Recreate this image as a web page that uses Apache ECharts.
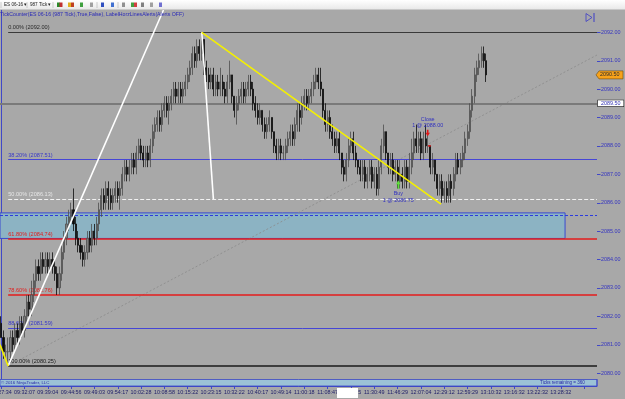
<!DOCTYPE html>
<html><head><meta charset="utf-8">
<script src="https://cdn.jsdelivr.net/npm/echarts@6/dist/echarts.min.js"></script>
<style>html,body{margin:0;padding:0;background:#a8a8a8;overflow:hidden}#c{width:625px;height:399px}</style>
</head><body><div id="c"></div>
<script>
// ---- data ----
const timeLabels = ['09:27:34','09:32:07','09:39:04','09:44:56','09:49:03','09:54:17','10:02:28','10:08:58','10:15:22','10:23:15','10:32:22','10:40:17','10:49:14','11:00:18','11:08:47','11:19:55','11:30:49','11:46:29','12:07:04','12:29:12','12:59:29','13:10:32','13:16:32','13:22:32','13:28:32'];
const slotCount = 256;
// [open, close, low, high]
const bars = [
[2081.75,2081.25,2081.25,2082.00],[2081.25,2080.75,2080.50,2081.50],[2080.75,2080.75,2080.50,2081.00],[2080.75,2080.75,2080.25,2081.25],[2080.75,2081.25,2080.50,2081.50],
[2081.25,2081.00,2080.75,2081.50],[2081.00,2081.50,2080.75,2081.75],[2081.50,2081.25,2081.00,2081.75],[2081.25,2081.75,2081.00,2082.00],[2081.75,2081.50,2081.25,2082.00],
[2081.50,2082.00,2081.25,2082.25],[2082.00,2082.50,2081.75,2082.75],[2082.50,2082.25,2082.00,2082.75],[2082.25,2082.75,2082.00,2083.25],[2082.75,2083.25,2082.50,2083.50],
[2083.25,2083.75,2083.00,2084.00],[2083.75,2083.50,2083.25,2084.00],[2083.50,2084.00,2083.25,2084.25],[2084.00,2083.75,2083.50,2084.25],[2083.75,2084.00,2083.50,2084.25],
[2084.00,2083.75,2083.50,2084.25],[2083.75,2084.00,2083.50,2084.25],[2084.00,2083.75,2083.50,2084.25],[2083.75,2083.50,2083.25,2084.00],[2083.50,2083.00,2082.75,2083.75],
[2083.00,2083.50,2082.75,2083.75],[2083.50,2084.25,2083.25,2084.50],[2084.25,2084.75,2084.00,2085.00],[2084.75,2085.25,2084.50,2085.50],[2085.25,2085.50,2085.00,2085.75],
[2085.50,2085.75,2085.25,2086.00],[2085.75,2085.25,2085.00,2086.50],[2085.25,2084.75,2084.50,2085.50],[2084.75,2084.50,2084.25,2085.00],[2084.50,2084.25,2084.00,2084.75],
[2084.25,2084.00,2083.75,2084.50],[2084.00,2084.25,2083.75,2084.50],[2084.25,2084.75,2084.00,2085.00],[2084.75,2084.50,2084.25,2085.00],[2084.50,2085.00,2084.25,2085.25],
[2085.00,2084.75,2084.50,2085.25],[2084.75,2085.25,2084.50,2085.50],[2085.25,2085.75,2085.00,2086.00],[2085.75,2086.25,2085.50,2086.50],[2086.25,2086.00,2085.75,2086.50],
[2086.00,2086.50,2085.75,2086.75],[2086.50,2086.25,2085.75,2086.75],[2086.25,2086.00,2085.75,2086.50],[2086.00,2086.25,2085.75,2086.50],[2086.25,2086.50,2086.00,2086.75],
[2086.50,2086.25,2086.00,2086.75],[2086.25,2086.50,2085.75,2086.75],[2086.50,2087.00,2086.25,2087.25],[2087.00,2087.25,2086.75,2087.50],[2087.25,2087.00,2086.75,2087.50],
[2087.00,2087.25,2086.75,2087.50],[2087.25,2087.50,2087.00,2087.75],[2087.50,2087.25,2087.00,2087.75],[2087.25,2087.75,2087.00,2088.00],[2087.75,2088.00,2087.50,2088.25],
[2088.00,2087.75,2087.50,2088.25],[2087.75,2087.50,2087.25,2088.00],[2087.50,2087.75,2087.25,2088.00],[2087.75,2087.50,2087.25,2088.00],[2087.50,2088.00,2087.25,2088.25],
[2088.00,2088.50,2087.75,2088.75],[2088.50,2088.75,2088.25,2089.00],[2088.75,2089.00,2088.50,2089.25],[2089.00,2088.75,2088.50,2089.25],[2088.75,2089.25,2088.50,2089.50],
[2089.25,2089.50,2089.00,2089.75],[2089.50,2089.25,2089.00,2089.75],[2089.25,2089.50,2088.75,2089.75],[2089.50,2089.75,2089.25,2090.00],[2089.75,2090.00,2089.50,2090.25],
[2090.00,2089.75,2089.50,2090.25],[2089.75,2090.00,2089.50,2090.25],[2090.00,2089.75,2089.50,2090.25],[2089.75,2090.00,2089.50,2090.25],[2090.00,2090.25,2089.75,2090.50],
[2090.25,2090.50,2090.00,2090.75],[2090.50,2090.75,2090.25,2091.00],[2090.75,2091.25,2090.50,2091.50],[2091.25,2091.00,2090.75,2091.50],[2091.00,2091.50,2090.75,2091.75],
[2091.50,2091.25,2091.00,2091.75],[2091.25,2091.75,2091.00,2092.00],[2091.75,2090.75,2090.50,2091.75],[2090.75,2090.50,2090.25,2091.00],[2090.50,2090.25,2090.00,2090.75],
[2090.25,2090.50,2090.00,2090.75],[2090.50,2090.00,2089.75,2090.75],[2090.00,2090.25,2089.75,2090.50],[2090.25,2090.00,2089.75,2090.50],[2090.00,2090.25,2089.75,2090.75],
[2090.25,2090.00,2089.75,2090.50],[2090.00,2089.75,2089.50,2090.25],[2089.75,2090.25,2089.50,2090.50],[2090.25,2090.50,2090.00,2091.00],[2090.50,2089.75,2089.50,2090.50],
[2089.75,2089.25,2089.00,2089.75],[2089.25,2089.50,2088.75,2089.75],[2089.50,2089.75,2089.25,2090.00],[2089.75,2090.00,2089.50,2090.25],[2090.00,2089.75,2089.50,2090.25],
[2089.75,2090.00,2089.50,2090.25],[2090.00,2090.25,2089.75,2090.50],[2090.25,2090.00,2089.75,2090.50],[2090.00,2089.50,2089.25,2090.25],[2089.50,2089.25,2089.00,2089.75],
[2089.25,2089.00,2088.75,2089.50],[2089.00,2089.25,2088.75,2089.50],[2089.25,2088.75,2088.50,2089.25],[2088.75,2088.50,2088.25,2089.00],[2088.50,2088.75,2088.25,2089.00],
[2088.75,2089.00,2088.50,2089.25],[2089.00,2088.50,2088.25,2089.00],[2088.50,2088.00,2087.75,2088.50],[2088.00,2087.75,2087.50,2088.25],[2087.75,2088.00,2087.50,2088.25],
[2088.00,2087.75,2087.50,2088.25],[2087.75,2087.75,2087.50,2088.00],[2087.75,2088.00,2087.50,2088.25],[2088.00,2088.25,2087.75,2088.50],[2088.25,2088.50,2088.00,2088.75],
[2088.50,2088.25,2088.00,2088.75],[2088.25,2088.75,2088.00,2089.00],[2088.75,2089.25,2088.50,2089.50],[2089.25,2089.00,2088.50,2089.50],[2089.00,2089.50,2088.75,2089.75],
[2089.50,2089.75,2089.25,2090.00],[2089.75,2089.50,2089.25,2090.00],[2089.50,2089.75,2089.25,2090.00],[2089.75,2090.00,2089.50,2090.25],[2090.00,2090.25,2089.75,2090.50],
[2090.25,2090.50,2090.00,2090.75],[2090.50,2090.25,2090.00,2090.75],[2090.25,2090.00,2089.75,2090.75],[2090.00,2089.25,2089.00,2090.00],[2089.25,2088.75,2088.50,2089.50],
[2088.75,2089.00,2088.50,2089.25],[2089.00,2088.50,2088.25,2089.25],[2088.50,2088.25,2088.00,2088.75],[2088.25,2088.00,2087.75,2088.50],[2088.00,2088.25,2087.75,2088.50],
[2088.25,2087.75,2087.50,2088.50],[2087.75,2087.25,2087.00,2087.75],[2087.25,2087.00,2086.75,2087.50],[2087.00,2087.50,2086.75,2087.75],[2087.50,2088.00,2087.25,2088.25],
[2088.00,2088.25,2087.75,2088.50],[2088.25,2087.75,2087.50,2088.50],[2087.75,2087.50,2087.25,2088.00],[2087.50,2087.25,2087.00,2087.50],[2087.25,2087.00,2086.75,2087.50],
[2087.00,2087.25,2086.75,2087.50],[2087.25,2086.75,2086.50,2087.50],[2086.75,2087.00,2086.50,2087.25],[2087.00,2087.25,2086.75,2087.50],[2087.25,2086.75,2086.50,2087.50],
[2086.75,2087.00,2086.50,2087.25],[2087.00,2086.50,2086.25,2087.25],[2086.50,2087.25,2086.25,2087.50],[2087.25,2088.00,2087.00,2088.25],[2088.00,2088.50,2087.75,2088.75],
[2088.50,2087.75,2087.50,2088.50],[2087.75,2087.25,2087.00,2087.75],[2087.25,2087.50,2087.00,2087.75],[2087.50,2087.00,2086.75,2087.75],[2087.00,2087.25,2086.75,2087.50],
[2087.25,2086.75,2086.50,2087.50],[2086.75,2087.00,2086.50,2087.50],[2087.00,2086.75,2086.50,2087.25],[2086.75,2087.25,2086.50,2087.50],[2087.25,2086.75,2086.50,2087.50],
[2086.75,2087.25,2086.50,2087.75],[2087.25,2087.75,2087.00,2088.25],[2087.75,2088.25,2087.50,2088.50],[2088.25,2088.00,2087.75,2088.75],[2088.00,2088.25,2087.75,2088.50],
[2088.25,2087.75,2087.50,2088.50],[2087.75,2088.25,2087.50,2088.50],[2088.25,2088.00,2087.75,2088.75],[2088.00,2088.00,2087.75,2088.50],[2088.00,2087.25,2087.00,2088.00],
[2087.25,2087.50,2087.00,2087.75],[2087.50,2087.00,2086.75,2087.50],[2087.00,2086.50,2086.25,2087.00],[2086.50,2086.75,2086.25,2087.00],[2086.75,2086.25,2086.00,2087.00],
[2086.25,2086.50,2086.00,2086.75],[2086.50,2086.25,2086.00,2086.75],[2086.25,2086.75,2086.00,2087.00],[2086.75,2086.50,2086.00,2087.00],[2086.50,2087.00,2086.25,2087.25],
[2087.00,2087.50,2086.75,2087.75],[2087.50,2087.25,2087.00,2087.75],[2087.25,2087.50,2087.00,2087.75],[2087.50,2087.75,2087.25,2088.00],[2087.75,2088.25,2087.50,2088.50],
[2088.25,2088.50,2088.00,2088.75],[2088.50,2089.25,2088.25,2089.50],[2089.25,2089.75,2089.00,2090.00],[2089.75,2090.50,2089.50,2090.75],[2090.50,2090.75,2090.25,2091.00],
[2090.75,2091.00,2090.50,2091.25],[2091.00,2091.25,2090.75,2091.50],[2091.25,2091.00,2090.75,2091.50],[2091.00,2090.50,2090.25,2091.25]
];
const priceTicks = [2080,2081,2082,2083,2084,2085,2086,2087,2088,2089,2090,2091,2092];
const priceMin = 2079.79, priceMax = 2092.785;
const fibLow = 2080.25, fibHigh = 2092.00, fibStart = 3;
const fibRatios = [0, 0.382, 0.5, 0.618, 0.786, 0.886, 1];
const alertPrice = 2089.50;
const lastPrice = 2090.50;
const zoneLow = 2084.74, zoneHigh = 2085.64, zoneEnd = 241.8, zoneDash = 2085.55;
const whiteUp = [[3, 2080.25], [69.6, 2092.785]];
const whiteDown = [[86, 2092.00], [91, 2086.13]];
const yellowLeft = [[-0.5, 2081.00], [3, 2080.25]];
const yellowMain = [[86, 2092.00], [188.6, 2085.95]];
const trendLine = [[3, 2080.25], [255.5, 2091.20]];
const trades = [{name:'Buy', idx:170.3, price:2086.75}, {name:'Close', idx:182.9, price:2088.00}];

// ---- styles ----
const FONT = 'Liberation Sans';
const fibColors = ['#3a3a3a','#4646d6','#f2f2f2','#e41c1c','#e41c1c','#4646d6','#1a1a1a'];
const fibLabelColors = ['#2a2a2a','#3838c8','#e6e6e6','#e02020','#e02020','#3838c8','#1a1a1a'];
const fibWidths = [1.2,1,1,1.5,1.5,1,1.5];
const fibTypes = ['solid','solid','dashed','solid','solid','solid','solid'];
const axisBlue = '#4048c8';

const chart = echarts.init(document.getElementById('c'));

const fibLines = fibRatios.map((r, k) => {
  const p = fibHigh - r * (fibHigh - fibLow);
  return [
    {coord: [fibStart, p],
     lineStyle: {color: fibColors[k], width: fibWidths[k], type: fibTypes[k]},
     label: {show: true, position: 'insideStartTop', distance: [0, 1.5], color: fibLabelColors[k],
             fontSize: 5.6, fontFamily: FONT, formatter: (r * 100).toFixed(2) + '% (' + p.toFixed(2) + ')'}},
    {coord: [255.5, p]}
  ];
});

const drawLine = (data, color, width, type) => ({
  type: 'line', xAxisIndex: 1, yAxisIndex: 0, data, symbol: 'none', silent: true, z: 6,
  lineStyle: {color, width, type: type || 'solid'}, animation: false
});

const option = {
  animation: false,
  backgroundColor: '#a8a8a8',
  grid: {left: 0, right: 28, top: 10, bottom: 20, containLabel: false, outerBoundsMode: 'none'},
  xAxis: [{
    type: 'category', data: Array.from({length: slotCount}, (_, i) => i), boundaryGap: true,
    offset: 7,
    axisLine: {show: true, lineStyle: {color: axisBlue, width: 1}},
    axisTick: {show: true, interval: 9, alignWithLabel: true, length: 3, lineStyle: {color: axisBlue}},
    axisLabel: {interval: 9, margin: 4, fontSize: 5.4, fontFamily: FONT, color: '#20206a',
      formatter: (v, idx) => timeLabels[idx / 10] || ''},
    splitLine: {show: false}
  }, {
    type: 'value', min: -0.5, max: slotCount - 0.5, show: false
  }],
  yAxis: [{
    type: 'value', position: 'right', min: priceMin, max: priceMax, scale: true,
    axisLine: {show: true, lineStyle: {color: axisBlue, width: 1}},
    axisTick: {show: false},
    axisLabel: {customValues: priceTicks, margin: 4, fontSize: 5.4, fontFamily: FONT, color: '#3434c0',
      formatter: v => v.toFixed(2)},
    splitLine: {show: false}
  }],
  series: [
    {
      type: 'line', xAxisIndex: 1, yAxisIndex: 0, data: trendLine, symbol: 'none', silent: true, z: 1,
      lineStyle: {color: '#8a8a8a', width: 0.8, type: [2, 2]},
      markArea: {silent: true, z: 1, itemStyle: {color: '#8cb3c3', borderColor: '#3a4ad0', borderWidth: 1},
        data: [[{coord: [-0.5, zoneLow]}, {coord: [zoneEnd, zoneHigh]}]]},
      markLine: {silent: true, symbol: 'none', z: 2, data: [
        [{coord: [-0.5, alertPrice], lineStyle: {color: '#7a7a7a', width: 2, type: 'solid'},
          label: {show: true, position: 'end', distance: 1, formatter: alertPrice.toFixed(2), backgroundColor: '#ffffff',
            borderColor: '#222', borderWidth: 0.6, padding: [1, 3, 0, 3], color: '#3030b0', fontSize: 5.4, fontFamily: FONT}},
         {coord: [255.5, alertPrice]}],
        [{coord: [-0.5, zoneDash], lineStyle: {color: '#2a3ae0', width: 1, type: [3, 2]}, label: {show: false}},
         {coord: [255.5, zoneDash]}]
      ].concat(fibLines)}
    },
    {
      type: 'candlestick', xAxisIndex: 0, yAxisIndex: 0, data: bars, barWidth: 1.6, z: 4, silent: true,
      itemStyle: {color: '#7e7e7e', color0: '#0c0c0c', borderColor: '#4e4e4e', borderColor0: '#0c0c0c', borderWidth: 0.8}
    },
    drawLine(whiteUp, '#ffffff', 1.6),
    drawLine(whiteDown, '#ffffff', 1.6),
    drawLine(yellowLeft, '#f4f000', 1.6),
    drawLine(yellowMain, '#f4f000', 1.6)
  ]
};
chart.setOption(option);

// ---- frame decorations & trade markers ----
const g = [];
// toolbar
g.push({type: 'rect', shape: {x: 0, y: 0, width: 625, height: 9.5}, style: {fill: new echarts.graphic.LinearGradient(0,0,0,1,[{offset:0,color:'#ffffff'},{offset:1,color:'#e8e8e8'}])}, z: 100});
g.push({type: 'line', shape: {x1: 0, y1: 9.5, x2: 625, y2: 9.5}, style: {stroke: '#c8c8c8', lineWidth: 0.6}, z: 100});
const tbText = (x, t) => g.push({type: 'text', x, y: 5, style: {text: t, fontSize: 4.6, fontFamily: FONT, fill: '#202020', verticalAlign: 'middle'}, z: 101});
tbText(4, 'ES 06-16 ▾'); tbText(30, '987 Tick ▾');
[1, 27, 53, 97, 118].forEach(x => g.push({type: 'line', shape: {x1: x, y1: 2, x2: x, y2: 8}, style: {stroke: '#b0b0b0', lineWidth: 0.6}, z: 101}));
const icons = [[57,'#2a8a2a'],[59.5,'#c03030'],[68,'#e0b020'],[71,'#c04020'],[80,'#40a040'],[90,'#a0a0a0'],[101,'#3050c0'],[111,'#4070d0'],[122,'#909090'],[131,'#40a040'],[134,'#d04040'],[141,'#808080'],[150,'#a0a0a0'],[159,'#7070d0']];
icons.forEach(([x, c]) => g.push({type: 'rect', shape: {x, y: 2.5, width: 3, height: 4.5}, style: {fill: c}, z: 101}));
// indicator header
g.push({type: 'text', x: 0, y: 14.5, style: {text: 'TickCounter(ES 06-16 (987 Tick),True,False), LabelHorzLinesAlerts(Alerts OFF)', fontSize: 5.2, fontFamily: FONT, fill: '#2a2ab8', verticalAlign: 'middle'}, z: 50});
// top-right icon
g.push({type: 'polygon', shape: {points: [[586, 13.5], [592, 17.5], [586, 21.5]]}, style: {fill: 'none', stroke: '#3c3cc8', lineWidth: 0.8}, z: 50});
g.push({type: 'line', shape: {x1: 594, y1: 13, x2: 594, y2: 22}, style: {stroke: '#3c3cc8', lineWidth: 1}, z: 50});
// bottom band
g.push({type: 'rect', shape: {x: 0, y: 379.5, width: 597, height: 6.5}, style: {fill: '#9cc2d6', stroke: '#3a46c4', lineWidth: 0.8}, z: 50});
g.push({type: 'line', shape: {x1: 597, y1: 379, x2: 597, y2: 386}, style: {stroke: axisBlue, lineWidth: 1}, z: 50});
g.push({type: 'text', x: 1, y: 383, style: {text: '© 2016 NinjaTrader, LLC', fontSize: 4.4, fontFamily: FONT, fill: '#2a2aa8', verticalAlign: 'middle'}, z: 51});
g.push({type: 'text', x: 540, y: 383, style: {text: 'Ticks remaining = 360', fontSize: 4.6, fontFamily: FONT, fill: '#2a2aa8', verticalAlign: 'middle'}, z: 51});
// redaction box on time axis
g.push({type: 'rect', shape: {x: 337, y: 388, width: 21, height: 10}, style: {fill: '#ffffff'}, z: 60});

// price axis ticks, positioned through the price axis
priceTicks.forEach(p => {
  const y = Math.round(chart.convertToPixel({yAxisIndex: 0}, p)) + 0.5;
  g.push({type: 'line', shape: {x1: 597, y1: y, x2: 600.5, y2: y}, style: {stroke: axisBlue, lineWidth: 1}, z: 55});
});

// last price tag, positioned through the price axis
const lastY = chart.convertToPixel({yAxisIndex: 0}, lastPrice);
g.push({type: 'polygon', shape: {points: [[596, lastY], [599, lastY - 4], [623, lastY - 4], [623, lastY + 4], [599, lastY + 4]]},
  style: {fill: '#f7a21b', stroke: '#6a4a10', lineWidth: 0.6}, z: 55});
g.push({type: 'text', x: 600, y: lastY, style: {text: lastPrice.toFixed(2), fontSize: 5.4, fontFamily: FONT, fill: '#2a2a2a', verticalAlign: 'middle'}, z: 56});

// trade markers, positioned through the axes
const tradeSeries = 0;
trades.forEach(t => {
  const [px, py] = chart.convertToPixel({seriesIndex: tradeSeries}, [t.idx, t.price]);
  const label = '1 @ ' + t.price.toFixed(2);
  if (t.name === 'Buy') {
    g.push({type: 'polygon', shape: {points: [[px, py - 1], [px + 2.2, py + 3], [px + 0.8, py + 3], [px + 0.8, py + 7.5], [px - 0.8, py + 7.5], [px - 0.8, py + 3], [px - 2.2, py + 3]]}, style: {fill: '#5ee03a'}, z: 40});
    g.push({type: 'text', x: px, y: py + 12, style: {text: 'Buy', fontSize: 5.4, fontFamily: FONT, fill: '#3030c0', align: 'center', verticalAlign: 'middle'}, z: 40});
    g.push({type: 'text', x: px, y: py + 19, style: {text: label, fontSize: 5.4, fontFamily: FONT, fill: '#3030c0', align: 'center', verticalAlign: 'middle'}, z: 40});
  } else {
    g.push({type: 'polygon', shape: {points: [[px, py - 9.5], [px + 2.2, py - 13], [px + 0.8, py - 13], [px + 0.8, py - 16], [px - 0.8, py - 16], [px - 0.8, py - 13], [px - 2.2, py - 13]]}, style: {fill: '#e01818'}, z: 40});
    g.push({type: 'rect', shape: {x: px + 0.5, y: py - 0.8, width: 2.5, height: 1.6}, style: {fill: '#e01818'}, z: 40});
    g.push({type: 'text', x: px, y: py - 26, style: {text: 'Close', fontSize: 5.4, fontFamily: FONT, fill: '#3030c0', align: 'center', verticalAlign: 'middle'}, z: 40});
    g.push({type: 'text', x: px, y: py - 20, style: {text: label, fontSize: 5.4, fontFamily: FONT, fill: '#3030c0', align: 'center', verticalAlign: 'middle'}, z: 40});
  }
});
chart.setOption({graphic: g});
</script></body></html>
